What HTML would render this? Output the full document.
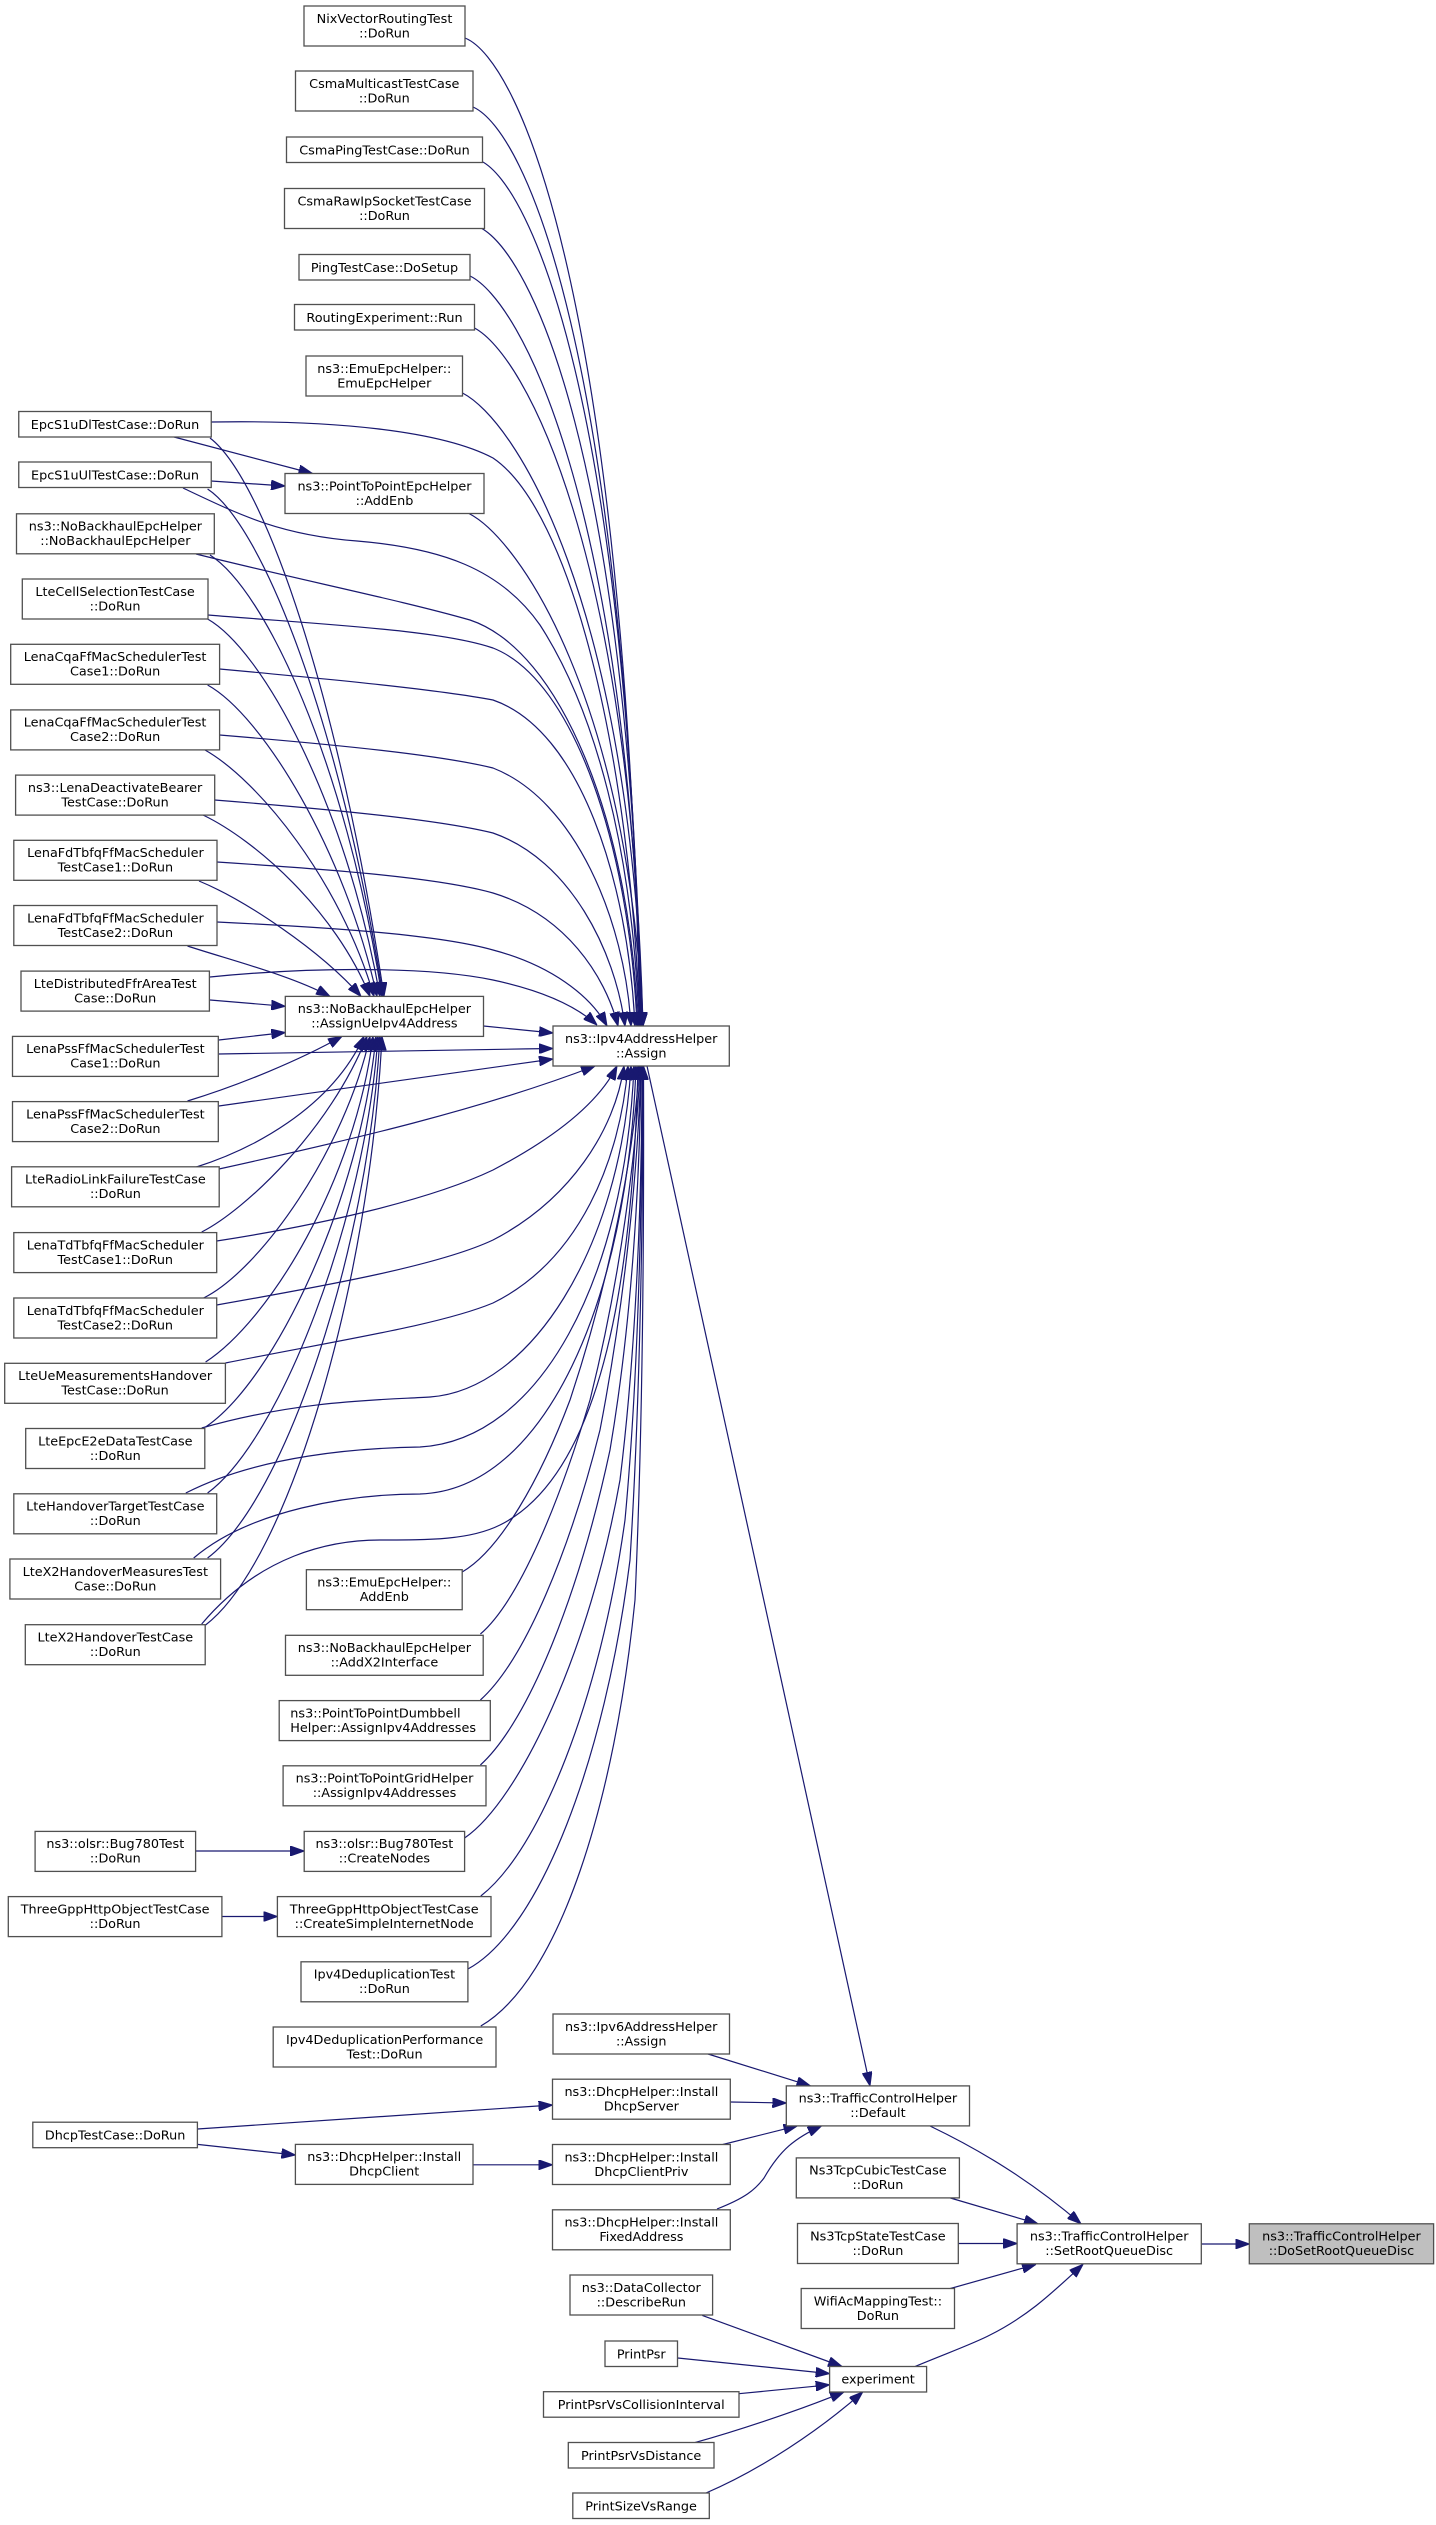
<!DOCTYPE html>
<html><head><meta charset="utf-8"><style>
html,body{margin:0;padding:0;background:#fff;}
svg{display:block;}
text{font-family:"DejaVu Sans","Liberation Sans",sans-serif;font-size:12.8px;fill:#000;text-anchor:middle;}
.b rect{fill:#fff;stroke:#505050;stroke-width:1.3;}
.e path{fill:none;stroke:#191970;stroke-width:1.2;marker-end:url(#ah);}
</style></head><body>
<svg width="1436" height="2525" viewBox="0 0 1436 2525" xmlns="http://www.w3.org/2000/svg">
<defs>
<marker id="ah" markerUnits="userSpaceOnUse" markerWidth="14" markerHeight="10" refX="14" refY="5" viewBox="0 0 14 10" orient="auto">
<path d="M0,0 L14,5 L0,10 Z" fill="#191970" stroke="#191970" stroke-width="1"/>
</marker>
</defs>
<rect x="0" y="0" width="1436" height="2525" fill="#fff"/>

<g class="e">
<!-- column B top -> Assign top -->
<path d="M465,38 C520,60 625,300 640,1026"/>
<path d="M473,107 C525,130 625,350 641,1026"/>
<path d="M481,161 C530,185 628,400 641,1026"/>
<path d="M481,228 C530,255 628,450 642,1026"/>
<path d="M470,276 C520,300 628,500 642,1026"/>
<path d="M474.5,328 C525,355 630,550 643,1026"/>
<path d="M462.5,393 C515,420 630,600 643,1026"/>
<path d="M469,513.5 C520,540 628,700 643,1026"/>

<!-- L -> AddEnb -->
<path d="M174,437 L312.5,473.5"/>
<path d="M211,481 L285,486"/>

<!-- L1..L10 -> Assign top -->
<path d="M211.5,422 C330,420 440,430 493,458 C570,510 630,750 640,1026"/>
<path d="M183,488 C240,515 280,535 357,541 C440,548 500,568 540,625 C595,710 633,850 639,1026"/>
<path d="M196,554 C300,580 400,600 470,620 C560,650 630,820 638,1026"/>
<path d="M208,615 C330,625 440,630 493,648 C575,680 630,850 637,1026"/>
<path d="M219.6,669 C340,680 440,690 493,700 C580,730 628,880 635,1026"/>
<path d="M219.6,735 C340,745 440,755 493,768 C575,800 625,920 631,1026"/>
<path d="M214.7,800 C340,810 440,820 493,833 C570,860 615,950 625,1026"/>
<path d="M217,862 C340,870 440,878 493,893 C565,915 605,975 618,1026"/>
<path d="M217,922 C340,928 440,935 493,950 C550,965 590,995 607,1026"/>
<path d="M210,977 C300,968 420,965 493,980 C540,990 575,1005 597,1025"/>

<!-- L1..L9 -> AssignUe top -->
<path d="M210,438 C265,480 340,700 384,996.4"/>
<path d="M207.6,489 C262,525 340,720 383,996.4"/>
<path d="M210,555 C265,590 345,760 382,996.4"/>
<path d="M207.6,619 C262,650 345,800 380,996.4"/>
<path d="M207.6,685 C262,715 345,850 377,996.4"/>
<path d="M205,750 C258,780 340,880 374,996.4"/>
<path d="M203,815 C255,840 335,910 370,996.4"/>
<path d="M199,881 C245,900 320,950 361,996.4"/>
<path d="M187.5,946 C230,960 290,975 330,996.4"/>
<!-- L10, L11 -> AssignUe left -->
<path d="M210,1000 L285.3,1006.3"/>
<path d="M218.8,1040 L285.3,1032.5"/>
<!-- L12, L13 -> AssignUe bottom -->
<path d="M187.5,1101 C240,1085 300,1060 342,1036.4"/>
<path d="M196.4,1167 C250,1150 330,1110 364,1036.4"/>
<!-- L14..L20 -> AssignUe bottom -->
<path d="M201.7,1232 C245,1210 330,1130 367,1036.4"/>
<path d="M203.6,1298 C260,1270 345,1150 370,1036.4"/>
<path d="M205.6,1362 C270,1320 355,1180 373,1036.4"/>
<path d="M205.6,1427 C275,1380 360,1200 376,1036.4"/>
<path d="M207.6,1493 C280,1440 365,1220 378,1036.4"/>
<path d="M207.6,1558 C285,1500 368,1250 380,1036.4"/>
<path d="M205.6,1625 C290,1560 370,1280 382,1036.4"/>

<!-- AssignUe -> Assign -->
<path d="M483.5,1026 L553,1033"/>
<!-- L11..L13 -> Assign -->
<path d="M218.8,1054 C350,1052 450,1050 553,1048.5"/>
<path d="M218.8,1106 L553,1059"/>
<path d="M219,1169 C350,1140 480,1110 595,1066"/>
<!-- L14..L20 -> Assign bottom -->
<path d="M216.7,1241 C320,1225 430,1200 493,1170 C560,1135 600,1100 617,1066"/>
<path d="M216.7,1305 C330,1285 440,1265 493,1240 C570,1200 615,1130 624,1066"/>
<path d="M225.4,1363 C340,1340 440,1325 493,1303 C580,1260 620,1160 628,1066"/>
<path d="M201.7,1428 C300,1400 380,1400 430,1397 C530,1390 620,1250 631,1066"/>
<path d="M185.8,1493 C260,1455 360,1448 420,1447 C540,1440 625,1280 634,1066"/>
<path d="M193.7,1558 C250,1510 350,1494 420,1494 C545,1490 628,1300 636,1066"/>
<path d="M201.7,1624 C260,1555 330,1540 380,1540 C430,1540 470,1540 500,1525 C590,1480 632,1320 638,1066"/>
<!-- B9..B16 -> Assign bottom -->
<path d="M462.2,1572 C500,1550 540,1480 570,1400 C610,1280 635,1150 639,1066"/>
<path d="M480.4,1634 C520,1600 560,1500 590,1400 C620,1280 637,1150 640,1066"/>
<path d="M480.4,1700 C525,1660 570,1550 600,1430 C625,1300 638,1170 641,1066"/>
<path d="M480.4,1765 C530,1720 580,1590 610,1450 C632,1320 640,1180 641,1066"/>
<path d="M464.6,1838 C520,1800 590,1650 620,1480 C636,1350 642,1200 642,1066"/>
<path d="M480.8,1896 C540,1850 600,1700 625,1520 C638,1380 642,1220 642.5,1066"/>
<path d="M467.9,1969 C540,1930 605,1760 630,1560 C640,1400 643,1230 643,1066"/>
<path d="M480.8,2026 C560,1980 615,1800 635,1600 C643,1420 644,1240 643.5,1066"/>

<!-- lower-left -->
<path d="M195.6,1851 L304.2,1851"/>
<path d="M221.9,1916.5 L277.4,1916.5"/>
<path d="M197.4,2129 L552.5,2105"/>
<path d="M197.4,2144.4 L295.4,2155"/>
<path d="M473,2164.8 L552.5,2164.8"/>

<!-- right part -->
<path d="M647,1066 L870,2085.9"/>
<path d="M708,2054 L810.5,2085.9"/>
<path d="M730.3,2102 L786.3,2103"/>
<path d="M722.8,2144.5 L797.5,2125.8"/>
<path d="M717,2209 C745,2198 755,2190 764,2178 C780,2150 795,2138 821.7,2125.8"/>
<path d="M930,2126 C980,2150 1030,2180 1081,2223.8"/>
<path d="M950.4,2198 L1038,2223.8"/>
<path d="M958.3,2243.5 L1017.1,2243.5"/>
<path d="M950.4,2288.5 L1036,2264.4"/>
<path d="M915,2366.5 C950,2352 975,2343 990,2335 C1030,2315 1055,2290 1083,2264.4"/>
<path d="M1201.3,2244 L1249.3,2244"/>
<path d="M702.3,2315.4 L842,2366.5"/>
<path d="M677.7,2358 L829.6,2373.6"/>
<path d="M738.9,2393.7 L829.6,2384.8"/>
<path d="M694.9,2442.6 C740,2430 800,2410 844,2391.9"/>
<path d="M706,2493 C760,2470 820,2430 862.8,2391.9"/>
</g>

<g class="b">
<!-- column B -->
<rect x="304" y="6" width="161" height="40"/><text x="384.5" y="22.8">NixVectorRoutingTest</text><text x="384.5" y="37.3">::DoRun</text>
<rect x="295.5" y="71" width="177.5" height="40"/><text x="384.3" y="87.8">CsmaMulticastTestCase</text><text x="384.3" y="102.3">::DoRun</text>
<rect x="286.5" y="137" width="196" height="25.5"/><text x="384.5" y="154.3">CsmaPingTestCase::DoRun</text>
<rect x="284.5" y="188.5" width="200" height="40"/><text x="384.5" y="205.3">CsmaRawIpSocketTestCase</text><text x="384.5" y="219.8">::DoRun</text>
<rect x="299" y="254.5" width="171" height="25.5"/><text x="384.5" y="271.8">PingTestCase::DoSetup</text>
<rect x="294.5" y="304.5" width="180" height="25.5"/><text x="384.5" y="321.8">RoutingExperiment::Run</text>
<rect x="306" y="356" width="156.5" height="40"/><text x="384.3" y="372.8">ns3::EmuEpcHelper::</text><text x="384.3" y="387.3">EmuEpcHelper</text>
<rect x="285" y="473.5" width="199" height="40"/><text x="384.5" y="490.3">ns3::PointToPointEpcHelper</text><text x="384.5" y="504.8">::AddEnb</text>
<rect x="285.3" y="996.4" width="198.2" height="40"/><text x="384.4" y="1013.2">ns3::NoBackhaulEpcHelper</text><text x="384.4" y="1027.7">::AssignUeIpv4Address</text>
<rect x="306.4" y="1569.7" width="155.8" height="40"/><text x="384.3" y="1586.5">ns3::EmuEpcHelper::</text><text x="384.3" y="1601">AddEnb</text>
<rect x="285.5" y="1635.3" width="197.7" height="40"/><text x="384.4" y="1652.1">ns3::NoBackhaulEpcHelper</text><text x="384.4" y="1666.6">::AddX2Interface</text>
<rect x="279.2" y="1700.6" width="211.1" height="40"/><text x="290.3" y="1717.4" style="text-anchor:start">ns3::PointToPointDumbbell</text><text x="290.3" y="1731.9" style="text-anchor:start">Helper::AssignIpv4Addresses</text>
<rect x="283.1" y="1765.8" width="202.9" height="40"/><text x="384.5" y="1782.6">ns3::PointToPointGridHelper</text><text x="384.5" y="1797.1">::AssignIpv4Addresses</text>
<rect x="304.2" y="1831.4" width="160.4" height="40"/><text x="384.4" y="1848.2">ns3::olsr::Bug780Test</text><text x="384.4" y="1862.7">::CreateNodes</text>
<rect x="277.4" y="1896.6" width="213.6" height="40"/><text x="384.2" y="1913.4">ThreeGppHttpObjectTestCase</text><text x="384.2" y="1927.9">::CreateSimpleInternetNode</text>
<rect x="301" y="1961.8" width="166.9" height="40"/><text x="384.4" y="1978.6">Ipv4DeduplicationTest</text><text x="384.4" y="1993.1">::DoRun</text>
<rect x="273.2" y="2027" width="222.8" height="40"/><text x="384.6" y="2043.8">Ipv4DeduplicationPerformance</text><text x="384.6" y="2058.3">Test::DoRun</text>
<rect x="295.4" y="2144.4" width="177.6" height="40"/><text x="384.2" y="2161.2">ns3::DhcpHelper::Install</text><text x="384.2" y="2175.7">DhcpClient</text>

<!-- left column -->
<rect x="18.75" y="411.5" width="192.5" height="25.5"/><text x="115" y="428.8">EpcS1uDlTestCase::DoRun</text>
<rect x="18.75" y="462" width="192.5" height="25.5"/><text x="115" y="479.3">EpcS1uUlTestCase::DoRun</text>
<rect x="16.5" y="513.8" width="197.8" height="40"/><text x="115.4" y="530.6">ns3::NoBackhaulEpcHelper</text><text x="115.4" y="545.1">::NoBackhaulEpcHelper</text>
<rect x="22.3" y="579" width="185.7" height="40"/><text x="115.1" y="595.8">LteCellSelectionTestCase</text><text x="115.1" y="610.3">::DoRun</text>
<rect x="10.7" y="644.3" width="208.9" height="40"/><text x="115.1" y="661.1">LenaCqaFfMacSchedulerTest</text><text x="115.1" y="675.6">Case1::DoRun</text>
<rect x="10.7" y="709.9" width="208.9" height="40"/><text x="115.1" y="726.7">LenaCqaFfMacSchedulerTest</text><text x="115.1" y="741.2">Case2::DoRun</text>
<rect x="15.6" y="775.1" width="199.1" height="40"/><text x="115.1" y="791.9">ns3::LenaDeactivateBearer</text><text x="115.1" y="806.4">TestCase::DoRun</text>
<rect x="13.8" y="840.3" width="203.2" height="40"/><text x="115.4" y="857.1">LenaFdTbfqFfMacScheduler</text><text x="115.4" y="871.6">TestCase1::DoRun</text>
<rect x="13.8" y="905.5" width="203.2" height="40"/><text x="115.4" y="922.3">LenaFdTbfqFfMacScheduler</text><text x="115.4" y="936.8">TestCase2::DoRun</text>
<rect x="21" y="971.1" width="188.4" height="40"/><text x="115.2" y="987.9">LteDistributedFfrAreaTest</text><text x="115.2" y="1002.4">Case::DoRun</text>
<rect x="12.5" y="1036.4" width="205.8" height="40"/><text x="115.4" y="1053.2">LenaPssFfMacSchedulerTest</text><text x="115.4" y="1067.7">Case1::DoRun</text>
<rect x="12.5" y="1101.6" width="205.8" height="40"/><text x="115.4" y="1118.4">LenaPssFfMacSchedulerTest</text><text x="115.4" y="1132.9">Case2::DoRun</text>
<rect x="11.6" y="1166.8" width="207.6" height="40"/><text x="115.4" y="1183.6">LteRadioLinkFailureTestCase</text><text x="115.4" y="1198.1">::DoRun</text>
<rect x="13.8" y="1232.6" width="202.9" height="40"/><text x="115.3" y="1249.4">LenaTdTbfqFfMacScheduler</text><text x="115.3" y="1263.9">TestCase1::DoRun</text>
<rect x="13.8" y="1298" width="202.9" height="40"/><text x="115.3" y="1314.8">LenaTdTbfqFfMacScheduler</text><text x="115.3" y="1329.3">TestCase2::DoRun</text>
<rect x="4.7" y="1363.3" width="220.7" height="40"/><text x="115.1" y="1380.1">LteUeMeasurementsHandover</text><text x="115.1" y="1394.6">TestCase::DoRun</text>
<rect x="25.7" y="1428.5" width="179.1" height="40"/><text x="115.3" y="1445.3">LteEpcE2eDataTestCase</text><text x="115.3" y="1459.8">::DoRun</text>
<rect x="13.8" y="1493.8" width="202.9" height="40"/><text x="115.3" y="1510.6">LteHandoverTargetTestCase</text><text x="115.3" y="1525.1">::DoRun</text>
<rect x="9.9" y="1559" width="210.7" height="40"/><text x="115.3" y="1575.8">LteX2HandoverMeasuresTest</text><text x="115.3" y="1590.3">Case::DoRun</text>
<rect x="25.3" y="1624.7" width="179.9" height="40"/><text x="115.3" y="1641.5">LteX2HandoverTestCase</text><text x="115.3" y="1656">::DoRun</text>
<rect x="35.1" y="1831.4" width="160.5" height="40"/><text x="115.3" y="1848.2">ns3::olsr::Bug780Test</text><text x="115.3" y="1862.7">::DoRun</text>
<rect x="8.3" y="1896.6" width="213.6" height="40"/><text x="115.1" y="1913.4">ThreeGppHttpObjectTestCase</text><text x="115.1" y="1927.9">::DoRun</text>
<rect x="32.8" y="2122.2" width="164.6" height="25.5"/><text x="115.1" y="2139.5">DhcpTestCase::DoRun</text>

<!-- column C -->
<rect x="553" y="1026" width="176.3" height="40"/><text x="641.2" y="1042.8">ns3::Ipv4AddressHelper</text><text x="641.2" y="1057.3">::Assign</text>
<rect x="553" y="2014" width="176.5" height="40"/><text x="641.2" y="2030.8">ns3::Ipv6AddressHelper</text><text x="641.2" y="2045.3">::Assign</text>
<rect x="552.5" y="2079.2" width="177.8" height="40"/><text x="641.4" y="2096">ns3::DhcpHelper::Install</text><text x="641.4" y="2110.5">DhcpServer</text>
<rect x="552.5" y="2144.5" width="177.8" height="40"/><text x="641.4" y="2161.3">ns3::DhcpHelper::Install</text><text x="641.4" y="2175.8">DhcpClientPriv</text>
<rect x="552.5" y="2209.8" width="177.8" height="40"/><text x="641.4" y="2226.6">ns3::DhcpHelper::Install</text><text x="641.4" y="2241.1">FixedAddress</text>
<rect x="570" y="2275" width="142.6" height="40"/><text x="641.3" y="2291.8">ns3::DataCollector</text><text x="641.3" y="2306.3">::DescribeRun</text>
<rect x="605" y="2341" width="72.5" height="25.5"/><text x="641.25" y="2358.3">PrintPsr</text>
<rect x="543.5" y="2391.7" width="195.5" height="25.5"/><text x="641.25" y="2409">PrintPsrVsCollisionInterval</text>
<rect x="568.3" y="2442.5" width="145.7" height="25.5"/><text x="641.15" y="2459.8">PrintPsrVsDistance</text>
<rect x="572.8" y="2493" width="136.5" height="25.5"/><text x="641.05" y="2510.3">PrintSizeVsRange</text>

<!-- column D -->
<rect x="786.3" y="2085.9" width="183.2" height="40"/><text x="877.9" y="2102.7">ns3::TrafficControlHelper</text><text x="877.9" y="2117.2">::Default</text>
<rect x="796.3" y="2157.9" width="163.1" height="40"/><text x="877.9" y="2174.7">Ns3TcpCubicTestCase</text><text x="877.9" y="2189.2">::DoRun</text>
<rect x="797.5" y="2223.5" width="160.8" height="40"/><text x="877.9" y="2240.3">Ns3TcpStateTestCase</text><text x="877.9" y="2254.8">::DoRun</text>
<rect x="801.2" y="2288.5" width="153.3" height="40"/><text x="877.9" y="2305.3">WifiAcMappingTest::</text><text x="877.9" y="2319.8">DoRun</text>
<rect x="829.6" y="2366.5" width="97" height="25.5"/><text x="878.1" y="2383.6">experiment</text>

<!-- columns E, F -->
<rect x="1017.1" y="2223.8" width="184.2" height="40"/><text x="1109.2" y="2240.6">ns3::TrafficControlHelper</text><text x="1109.2" y="2255.1">::SetRootQueueDisc</text>
<rect x="1249.3" y="2223.8" width="184.3" height="40" style="fill:#bfbfbf"/><text x="1341.45" y="2240.6">ns3::TrafficControlHelper</text><text x="1341.45" y="2255.1">::DoSetRootQueueDisc</text>
</g>
</svg>
</body></html>
